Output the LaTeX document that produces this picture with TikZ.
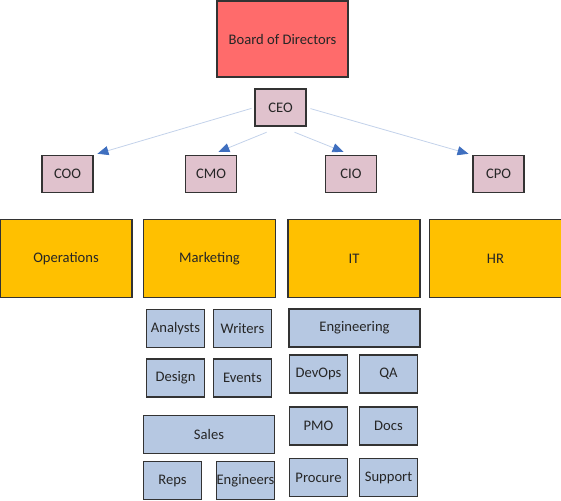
\documentclass[tikz,border=0pt]{standalone}
\usepackage{fontspec}
\setmainfont{Carlito}
\usepackage{tikz}
\usetikzlibrary{arrows.meta}
\usepackage{xcolor}
\definecolor{boardred}{HTML}{FF6B6B}
\definecolor{chiefpink}{HTML}{E0C2CD}
\definecolor{deptamber}{HTML}{FFC000}
\definecolor{teamblue}{HTML}{B6C8E2}
\definecolor{linkblue}{HTML}{C3D2EA}
\definecolor{tipblue}{HTML}{3F6FBF}

\begin{document}
\begin{tikzpicture}[x=1pt,y=-1pt,node distance=67pt,
  font=\fontsize{14.6}{16}\selectfont,
  box/.style={rectangle,draw=black!80,line width=1.2pt,inner sep=0pt,text=black!85},
  board node/.style={box,fill=boardred,minimum width=131pt,minimum height=76pt},
  chief node/.style={box,fill=chiefpink,minimum width=51pt,minimum height=37pt},
  dept node/.style={box,fill=deptamber,minimum width=132pt,minimum height=78pt},
  team node/.style={box,fill=teamblue,minimum width=58pt,minimum height=38pt},
  wide team/.style={team node,minimum width=131pt},
  report/.style={draw=linkblue,line width=0.8pt,
                 -{Triangle[length=11pt,width=9pt,color=tipblue]}}]

  \useasboundingbox (0,0) rectangle (561,500);

  \node[board node] (board) at (282.5,39)  {Board of Directors};
  \node[chief node] (CEO)   at (280.5,107.5) {CEO};

  \node[chief node] (COO) at (67.5,174)  {COO};
  \node[chief node] (CMO) at (211,174)   {CMO};
  \node[chief node] (CIO) at (351,174)   {CIO};
  \node[chief node] (CPO) at (498.5,174) {CPO};

  \node[dept node] (ops) at (66,258.5)    {Operations};
  \node[dept node] (mkt) at (209.5,258.5) {Marketing};
  \node[dept node] (IT)  at (354,258.5)   {IT};
  \node[dept node] (HR)  at (495.5,258.5) {HR};

  % marketing teams
  \node[team node] (analysts) at (175.5,328.5)        {Analysts};
  \node[team node] (writers)  [right of=analysts]     {Writers};
  \node[team node] (design)   at (175.5,378)          {Design};
  \node[team node] (events)   [right of=design]       {Events};
  \node[wide team] (sales)    at (209,434.5)          {Sales};
  \node[team node] (reps)     at (172.5,480.5)        {Reps};
  \node[team node,text width=58pt,align=center] (engs) [right of=reps, node distance=73pt] {Engineers};

  % IT teams
  \node[wide team] (engineering) at (354.5,328)       {Engineering};
  \node[team node] (devops)   at (318.5,374)          {DevOps};
  \node[team node] (QA)       [right of=devops, node distance=70pt] {QA};
  \node[team node] (PMO)      at (318.5,426)          {PMO};
  \node[team node] (docs)     [right of=PMO, node distance=70pt]    {Docs};
  \node[team node] (procure)  at (318.5,477.5)        {Procure};
  \node[team node] (support)  [right of=procure, node distance=70pt] {Support};

  % CEO to chiefs
  \draw[report, shorten <=3pt, shorten >=4pt]  (CEO.west)  to (COO.north east);
  \draw[report, shorten <=15pt, shorten >=8pt] (CEO.south) to (CMO.north);
  \draw[report, shorten <=15pt, shorten >=8pt] (CEO.south) to (CIO.north);
  \draw[report, shorten <=4pt, shorten >=4pt]  (CEO.east)  to (CPO.north west);

\end{tikzpicture}
\end{document}
